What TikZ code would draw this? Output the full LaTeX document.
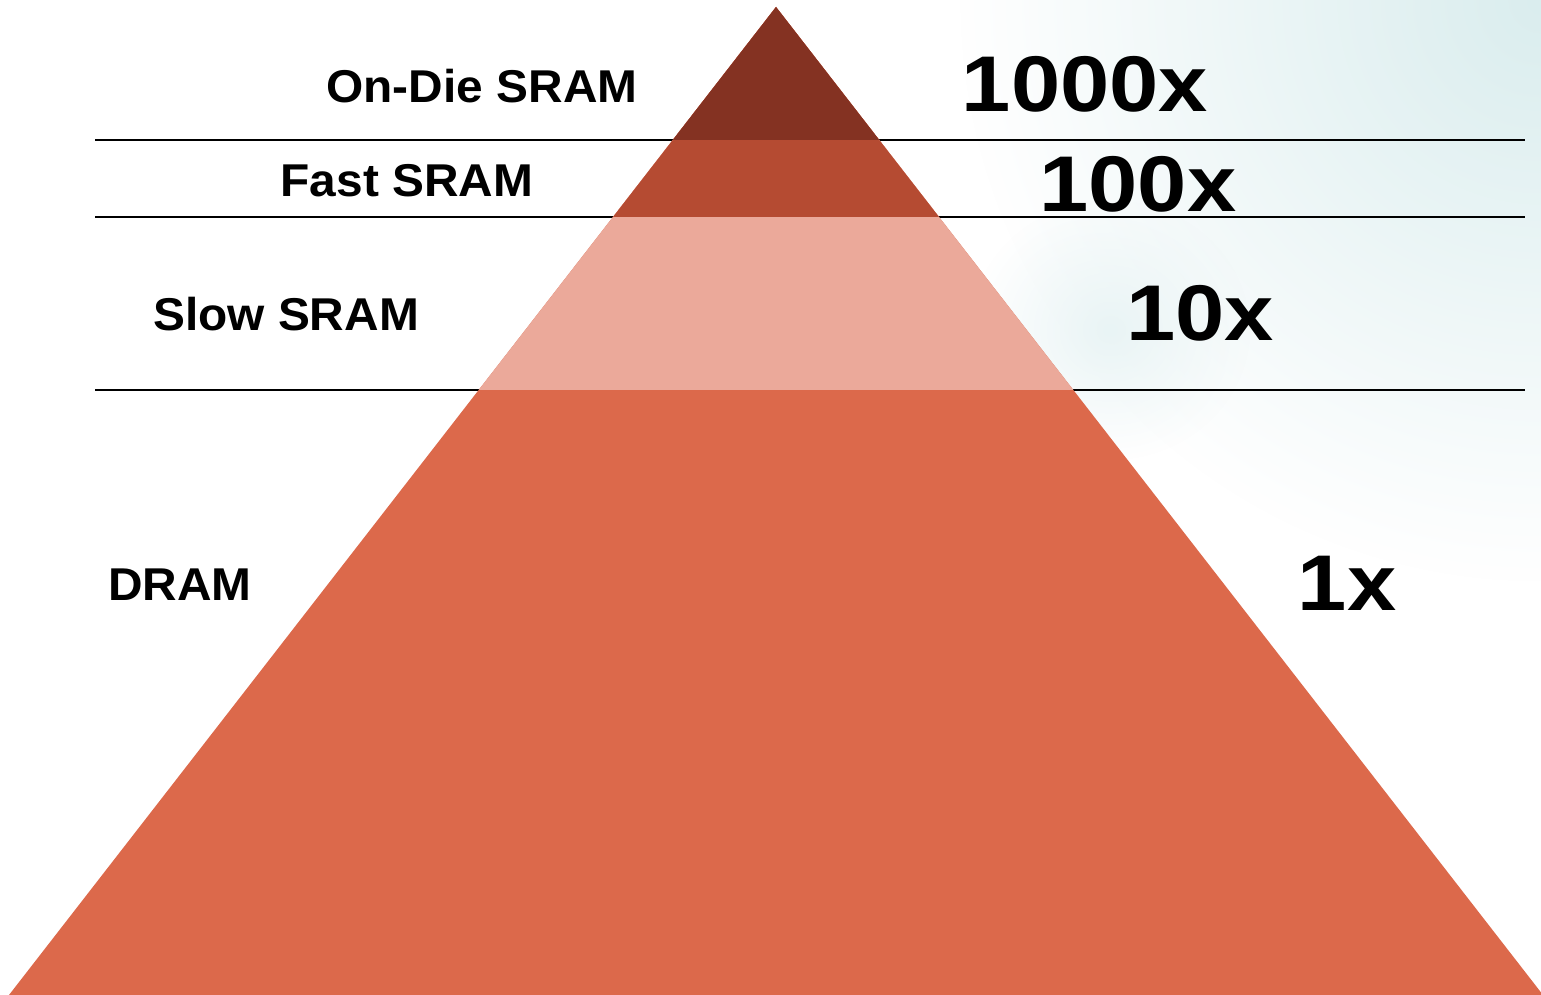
\documentclass[tikz,border=0pt]{standalone}
\usepackage{fontspec}
\setmainfont{Liberation Sans}
\newfontfamily\labfont[FakeStretch=1.04]{Liberation Sans Bold}
\newfontfamily\bigfont[FakeStretch=1.12]{Liberation Sans Bold}
\usetikzlibrary{fadings}
\tikzfading[name=glowfade, inner color=transparent!0, outer color=transparent!100]
\definecolor{topc}{RGB}{132,50,34}
\definecolor{fastc}{RGB}{181,75,50}
\definecolor{slowc}{RGB}{235,169,154}
\definecolor{dramc}{RGB}{220,105,75}
\definecolor{glow}{RGB}{218,237,238}
\tikzset{
  sep/.style={black,line width=1.6pt},
  lab/.style={inner sep=0pt,anchor=center,font=\labfont\fontsize{46}{46}\selectfont},
  big/.style={inner sep=0pt,anchor=center,font=\bigfont\fontsize{79}{79}\selectfont},
}
\begin{document}
\begin{tikzpicture}[x=1pt,y=-1pt]
\useasboundingbox (0,0) rectangle (1541,995);
\fill[white] (0,0) rectangle (1541,995);
% background glow
\begin{scope}
\clip (0,0) rectangle (1541,995);
\fill[glow,path fading=glowfade] (1541,0) circle (580);
\fill[glow!60,path fading=glowfade] (1110,330) ellipse (140 and 130);
\end{scope}
% separator lines
\coordinate (l1a) at (95,140); \coordinate (l1b) at (1525,140);
\coordinate (l2a) at (95,217); \coordinate (l2b) at (1525,217);
\coordinate (l3a) at (95,390); \coordinate (l3b) at (1525,390);
\draw[sep,line width=2pt] (l1a) -- (l1b);
\draw[sep] (l2a) -- (l2b);
\draw[sep] (l3a) -- (l3b);
% pyramid
\coordinate (apex) at (776,7);
\coordinate (bl) at (9,995);
\coordinate (br) at (1543,995);
\begin{scope}
\clip (0,0) rectangle (1541,995);
\fill[dramc] (apex) -- (bl) -- (br) -- cycle;
\clip (apex) -- (bl) -- (br) -- cycle;
\fill[slowc] (0,0) rectangle (1541,390);
\fill[fastc] (0,0) rectangle (1541,217);
\fill[topc] (0,0) rectangle (1541,140);
\end{scope}
% labels
\node[lab] (ondie) at (482,86) {On-Die SRAM};
\node[lab] (fast) at (407,181) {Fast SRAM};
\node[lab] (slow) at (286,314) {Slow SRAM};
\node[lab] (dram) at (180,585) {DRAM};
\node[big] (x1000) at (1085,84) {1000x};
\node[big] (x100) at (1138,184) {100x};
\node[big] (x10) at (1200,313) {10x};
\node[big] (x1) at (1347,583) {1x};
\end{tikzpicture}
\end{document}
